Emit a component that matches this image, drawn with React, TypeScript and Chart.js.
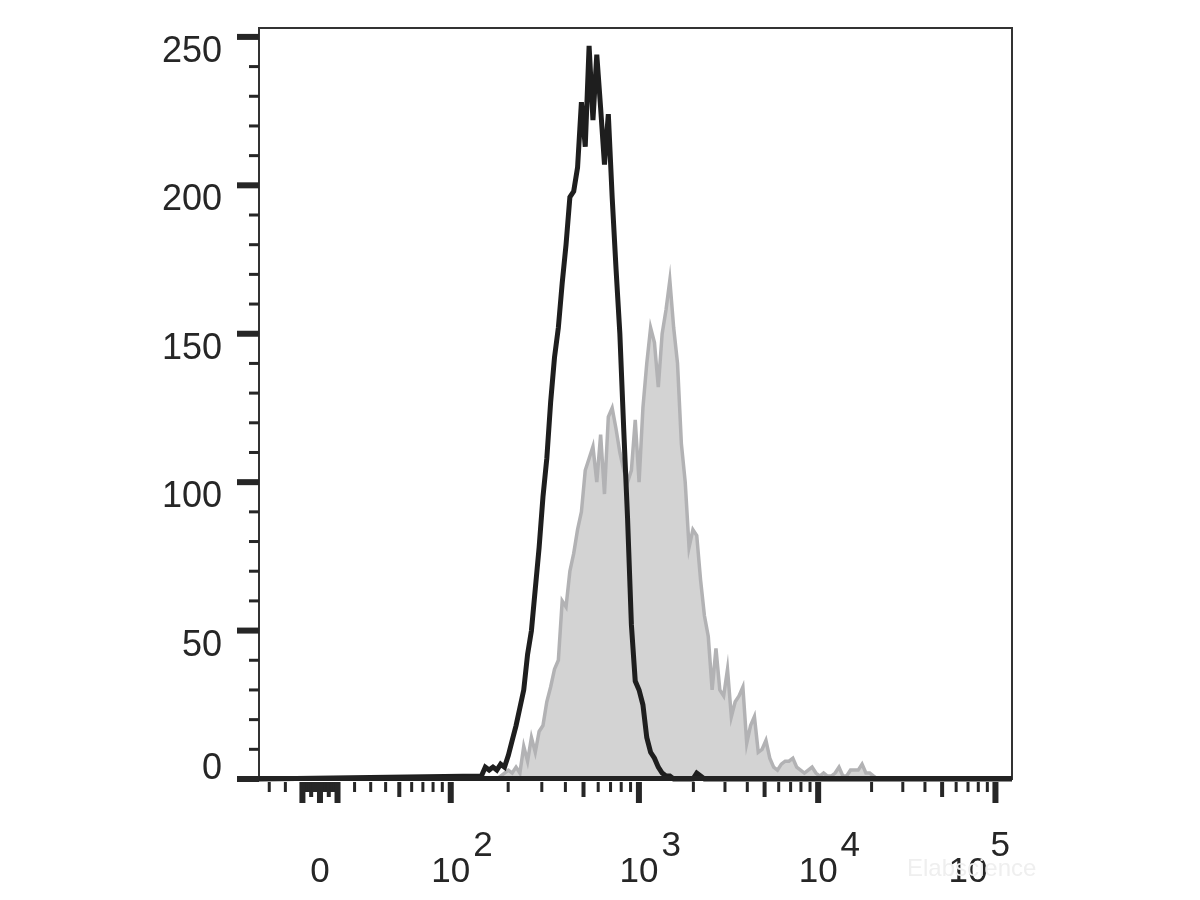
import { useEffect, useRef } from "react";
import { Chart, registerables } from "chart.js";

Chart.register(...registerables);

// ---- Data (histogram bins on a logicle display axis) ----
const BIN_STEP = 0.05; // display units per bin
const CONTROL_START = 2.1; // first bin (display units) of the isotype control
const CONTROL_COUNTS = [
  1, 4, 3, 4, 3, 5, 4, 8, 13, 18, 24, 30, 42, 50, 64, 78, 95, 108, 127, 142,
  152, 167, 180, 196, 198, 206, 228, 213, 247, 222, 244, 226, 207, 224, 196,
  172, 150, 118, 88, 52, 33, 30, 25, 14, 9, 7, 4, 2, 1, 1, 0, 0, 0, 0, 0, 0, 2,
  1, 0,
];
const STAINED_START = 2.3;
const STAINED_COUNTS = [
  0, 1, 2, 3, 2, 4, 2, 11, 6, 14, 9, 16, 18, 26, 31, 37, 40, 60, 58, 70, 76, 84,
  90, 104, 108, 112, 100, 116, 96, 122, 125, 118, 110, 104, 100, 104, 121, 100,
  125, 140, 152, 147, 132, 150, 158, 168, 152, 140, 113, 100, 78, 84, 82, 67,
  55, 48, 30, 44, 30, 28, 37, 21, 26, 28, 31, 12, 18, 21, 9, 10, 13, 7, 4, 3, 5,
  6, 6, 7, 4, 3, 2, 3, 4, 2, 1, 2, 1, 1, 2, 4, 1, 1, 3, 3, 3, 5, 2, 2, 1, 0,
];

// axis ranges
const X_MIN = -0.793; // display units
const X_MAX = 9.0;
const Y_MIN = 0;
const Y_MAX = 253;
const Y_LABELS = [0, 50, 100, 150, 200, 250];
const Y_MINOR_STEP = 10;
const X_DECADES = [2, 3, 4, 5];

// logicle-like transform parameters
const LOGICLE_S = 15.3;
const LOGICLE_P = 1.85;

function logicleValue(y: number): number {
  const s = y < 0 ? -1 : 1;
  const a = Math.abs(y);
  const P = LOGICLE_P;
  const v = Math.exp(a) - P * P * Math.exp(-a / P) + P * P - 1;
  return s * LOGICLE_S * v;
}
function toDisplay(v: number): number {
  const s = v < 0 ? -1 : 1;
  const t = Math.abs(v);
  let lo = 0;
  let hi = 20;
  for (let i = 0; i < 80; i++) {
    const mid = (lo + hi) / 2;
    if (logicleValue(mid) < t) lo = mid;
    else hi = mid;
  }
  return (s * (lo + hi)) / 2;
}

type Tick = { v: number; kind: 0 | 1 | 2 };
function buildXTicks(): Tick[] {
  const ticks: Tick[] = [];
  for (let k = -9; k <= 9; k++) {
    ticks.push({ v: k, kind: k === 0 ? 2 : Math.abs(k) === 5 ? 1 : 0 });
  }
  for (let m = 1; m <= 9; m++) {
    ticks.push({ v: -m * 10, kind: m === 1 ? 2 : m === 5 ? 1 : 0 });
  }
  for (let d = 1; d <= 5; d++) {
    const base = Math.pow(10, d);
    for (let m = 1; m <= 9; m++) {
      ticks.push({ v: m * base, kind: m === 1 ? 2 : m === 5 ? 1 : 0 });
    }
  }
  return ticks;
}

const bins = (start: number, counts: number[]) =>
  counts.map((c, i) => ({ x: +(start + i * BIN_STEP).toFixed(3), y: c }));

const FONT = '"Liberation Sans", Arial, Helvetica, sans-serif';

const flowAxes = {
  id: "flowAxes",
  afterDatasetsDraw(chart: any) {
    const { ctx, chartArea: a, scales } = chart;
    const x = scales.x;
    const y = scales.y;
    ctx.save();
    // frame
    ctx.strokeStyle = "#333";
    ctx.lineWidth = 2;
    ctx.strokeRect(a.left, a.top, a.right - a.left, a.bottom - a.top);
    // heavy baseline
    ctx.fillStyle = "#222";
    ctx.fillRect(a.left, a.bottom - 3, a.right - a.left, 5);

    ctx.fillStyle = "#262626";
    // y ticks
    for (let v = Y_MIN; v <= 250; v += Y_MINOR_STEP) {
      const py = y.getPixelForValue(v);
      const major = v % 50 === 0;
      const len = major ? 22 : 10;
      const th = major ? 6 : 3;
      ctx.fillRect(a.left - len, py - th / 2, len, th);
    }
    // y labels
    ctx.font = `36px ${FONT}`;
    ctx.textAlign = "right";
    ctx.textBaseline = "middle";
    for (const v of Y_LABELS) {
      let py = y.getPixelForValue(v) + 15;
      py = Math.min(py, a.bottom - 10);
      ctx.fillText(String(v), a.left - 37, py);
    }

    // x ticks
    const top = a.bottom + 3;
    for (const t of buildXTicks()) {
      const u = toDisplay(t.v);
      if (u < X_MIN || u > X_MAX) continue;
      const px = x.getPixelForValue(u);
      const len = t.kind === 2 ? 21 : t.kind === 1 ? 15 : 10;
      const w = t.kind === 2 ? 6 : t.kind === 1 ? 4 : 3;
      ctx.fillRect(px - w / 2, top, w, len);
    }

    // x labels
    ctx.font = `35px ${FONT}`;
    ctx.textBaseline = "alphabetic";
    const base = a.bottom + 103;
    const supBase = a.bottom + 77;
    ctx.textAlign = "center";
    ctx.fillText("0", x.getPixelForValue(toDisplay(0)), base);
    ctx.textAlign = "left";
    for (const d of X_DECADES) {
      const px = x.getPixelForValue(toDisplay(Math.pow(10, d)));
      const w10 = ctx.measureText("10").width;
      const wsup = ctx.measureText(String(d)).width;
      const gap = 3;
      let left = px - w10 / 2;
      const right = left + w10 + gap + wsup;
      const limit = a.right - 2;
      if (right > limit) left -= right - limit;
      ctx.fillText("10", left, base);
      ctx.fillText(String(d), left + w10 + gap, supBase);
    }

    // faint watermark
    ctx.font = `24px ${FONT}`;
    ctx.fillStyle = "#efefef";
    ctx.textAlign = "left";
    ctx.fillText("Elabscience", a.right - 105, a.bottom + 97);
    ctx.restore();
  },
};

export default function App() {
  const ref = useRef<HTMLCanvasElement | null>(null);
  useEffect(() => {
    document.body.style.margin = "0";
    const canvas = ref.current;
    if (!canvas) return;
    const control = [
      { x: X_MIN, y: 0 },
      ...bins(CONTROL_START, CONTROL_COUNTS),
      { x: X_MAX, y: 0 },
    ];
    const stained = bins(STAINED_START, STAINED_COUNTS);
    const chart = new Chart(canvas, {
      type: "line",
      data: {
        datasets: [
          {
            label: "Isotype control",
            data: control,
            borderColor: "#1e1e1e",
            borderWidth: 5,
            pointRadius: 0,
            tension: 0,
            fill: false,
            order: 1,
            clip: 8,
          } as any,
          {
            label: "Stained",
            data: stained,
            borderColor: "rgb(178,178,180)",
            backgroundColor: "rgb(211,211,211)",
            borderWidth: 3.5,
            pointRadius: 0,
            tension: 0,
            fill: "origin",
            order: 2,
            clip: 8,
          } as any,
        ],
      },
      options: {
        animation: false,
        responsive: false,
        maintainAspectRatio: false,
        layout: { padding: { left: 259, top: 28, right: 188, bottom: 121 } },
        plugins: { legend: { display: false }, tooltip: { enabled: false } },
        scales: {
          x: { type: "linear", min: X_MIN, max: X_MAX, display: false },
          y: { type: "linear", min: Y_MIN, max: Y_MAX, display: false },
        },
      },
      plugins: [flowAxes],
    });
    return () => chart.destroy();
  }, []);
  return (
    <div style={{ width: 1200, height: 900, background: "#fff" }}>
      <canvas ref={ref} width={1200} height={900} style={{ display: "block" }} />
    </div>
  );
}
